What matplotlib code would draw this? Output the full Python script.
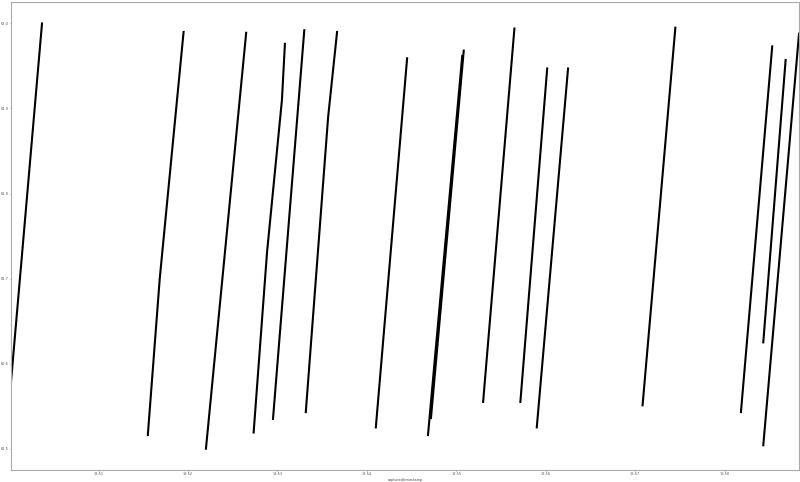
"""Sawtooth readings over time, drawn as separate rising runs."""

import matplotlib

matplotlib.use("Agg")
import matplotlib.dates as mdates
import matplotlib.pyplot as plt
import pandas as pd

DAY = "2023-01-01"

# Each run of readings (times and values).
run_times = [
    ["18:50:01", "18:50:22"],
    ["18:51:33", "18:51:41", "18:51:57"],
    ["18:52:12", "18:52:39"],
    ["18:52:44", "18:52:53", "18:53:03", "18:53:05"],
    ["18:52:57", "18:53:18"],
    ["18:53:19", "18:53:34", "18:53:40"],
    ["18:54:06", "18:54:27"],
    ["18:54:41", "18:55:04"],
    ["18:54:43", "18:55:05"],
    ["18:55:18", "18:55:39"],
    ["18:55:43", "18:56:01"],
    ["18:55:54", "18:56:15"],
    ["18:57:05", "18:57:27"],
    ["18:58:11", "18:58:32"],
    ["18:58:26", "18:58:41"],
    ["18:58:26", "18:58:50"],
]
run_values = [
    [61.575, 62.000],
    [61.516, 61.700, 61.990],
    [61.500, 61.989],
    [61.519, 61.731, 61.910, 61.976],
    [61.535, 61.992],
    [61.543, 61.890, 61.990],
    [61.525, 61.959],
    [61.516, 61.962],
    [61.536, 61.968],
    [61.555, 61.994],
    [61.555, 61.947],
    [61.525, 61.947],
    [61.551, 61.995],
    [61.543, 61.973],
    [61.625, 61.957],
    [61.504, 61.988],
]
y_ticks = [61.5, 61.6, 61.7, 61.8, 61.9, 62.0]

fig = plt.figure(figsize=(8, 4.82), dpi=100)
ax = fig.add_axes([0.0134, 0.025, 0.9854, 0.9705])

all_times = []
for times, values in zip(run_times, run_values):
    stamps = pd.to_datetime([f"{DAY} {t}" for t in times])
    all_times.extend(stamps)
    ax.plot(stamps, values, color="black", linewidth=1.5)

ax.set_xlim(min(all_times), max(all_times))
ax.margins(y=0.05)
ax.set_yticks(y_ticks)
ax.yaxis.set_major_formatter(plt.FormatStrFormatter("%.1f"))
ax.xaxis.set_major_locator(mdates.MinuteLocator())
ax.xaxis.set_major_formatter(mdates.DateFormatter("%H:%M"))

ax.tick_params(labelsize=2.5, length=1.0, width=0.4, pad=0.6, colors="#555555")
for spine in ax.spines.values():
    spine.set_color("#aaaaaa")
    spine.set_linewidth(0.8)
ax.set_xlabel("capturedtimestamp", fontsize=2.5, labelpad=1, color="#444444")

fig.savefig("out.png", dpi=100)
plt.close(fig)
